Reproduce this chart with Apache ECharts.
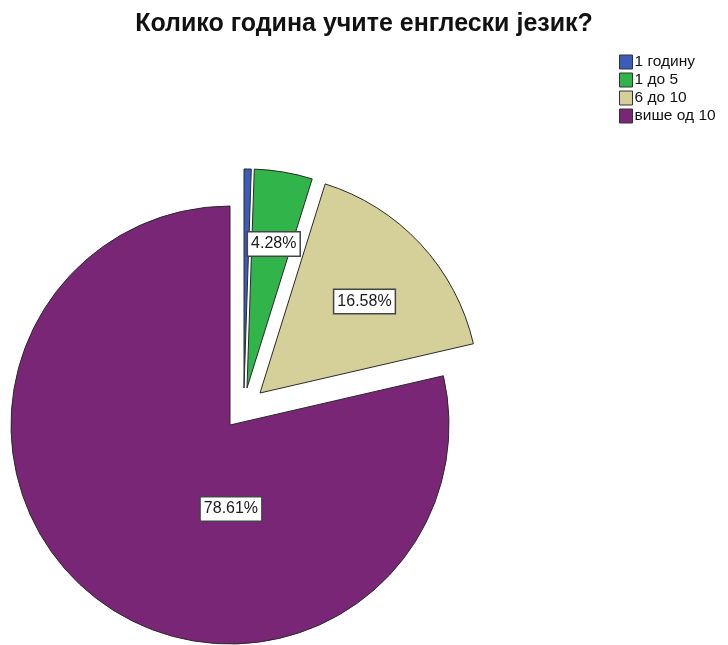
<!DOCTYPE html>
<html>
<head>
<meta charset="utf-8">
<script src="https://cdn.jsdelivr.net/npm/echarts@6/dist/echarts.min.js"></script>
<style>
html,body{margin:0;padding:0;background:#fff;}
#chart{width:728px;height:645px;}
</style>
</head>
<body>
<div id="chart"></div>
<script>
// Data
const titleText = 'Колико година учите енглески језик?';
const categories = ['1 годину', '1 до 5', '6 до 10', 'више од 10'];
const values = [0.53, 4.28, 16.58, 78.61];
const showLabel = [false, true, true, true];

// Styling / layout (not data)
const colors = ['#3B5CB8', '#31B54B', '#D5D09A', '#7A2677'];
const centers = [[244, 388], [247, 388], [260, 393], [230, 425]];
const radius = 219;
const labelShift = [[0, 0], [8, -33], [22, -15], [71, -4]];

const chart = echarts.init(document.getElementById('chart'), null, {renderer: 'canvas'});

const series = categories.map((_, k) => ({
  type: 'pie',
  center: centers[k],
  radius: radius,
  startAngle: 90,
  clockwise: true,
  silent: true,
  animation: false,
  avoidLabelOverlap: false,
  emphasis: {disabled: true},
  labelLine: {show: false},
  labelLayout: {dx: labelShift[k][0], dy: labelShift[k][1]},
  data: categories.map((name, i) => ({
    name: name,
    value: values[i],
    itemStyle: i === k
      ? {color: colors[i], borderColor: '#2a2a2a', borderWidth: 1}
      : {color: 'rgba(0,0,0,0)', borderWidth: 0},
    label: {
      show: i === k && showLabel[i],
      position: 'inside',
      formatter: values[i].toFixed(2) + '%',
      color: '#1a1a1a',
      fontFamily: 'Liberation Sans, Arial, sans-serif',
      fontSize: 16,
      backgroundColor: '#fff',
      borderColor: '#444',
      borderWidth: 1.5,
      padding: [4, 3, 3, 3]
    }
  }))
}));

chart.setOption({
  backgroundColor: '#fff',
  title: {
    text: titleText,
    left: 'center',
    top: 7,
    textStyle: {fontFamily: 'Liberation Sans, Arial, sans-serif', fontSize: 25, fontWeight: 'bold', color: '#111'}
  },
  legend: {
    orient: 'vertical',
    left: 614,
    top: 49,
    itemWidth: 13,
    itemHeight: 14,
    itemGap: 2,
    icon: 'rect',
    selectedMode: false,
    textStyle: {fontFamily: 'Liberation Sans, Arial, sans-serif', fontSize: 15.5, color: '#111', padding: [0, 0, 0, -3]},
    data: categories.map((name, i) => ({
      name: name,
      itemStyle: {color: colors[i], borderColor: '#333', borderWidth: 1}
    }))
  },
  series: series
});
</script>
</body>
</html>
